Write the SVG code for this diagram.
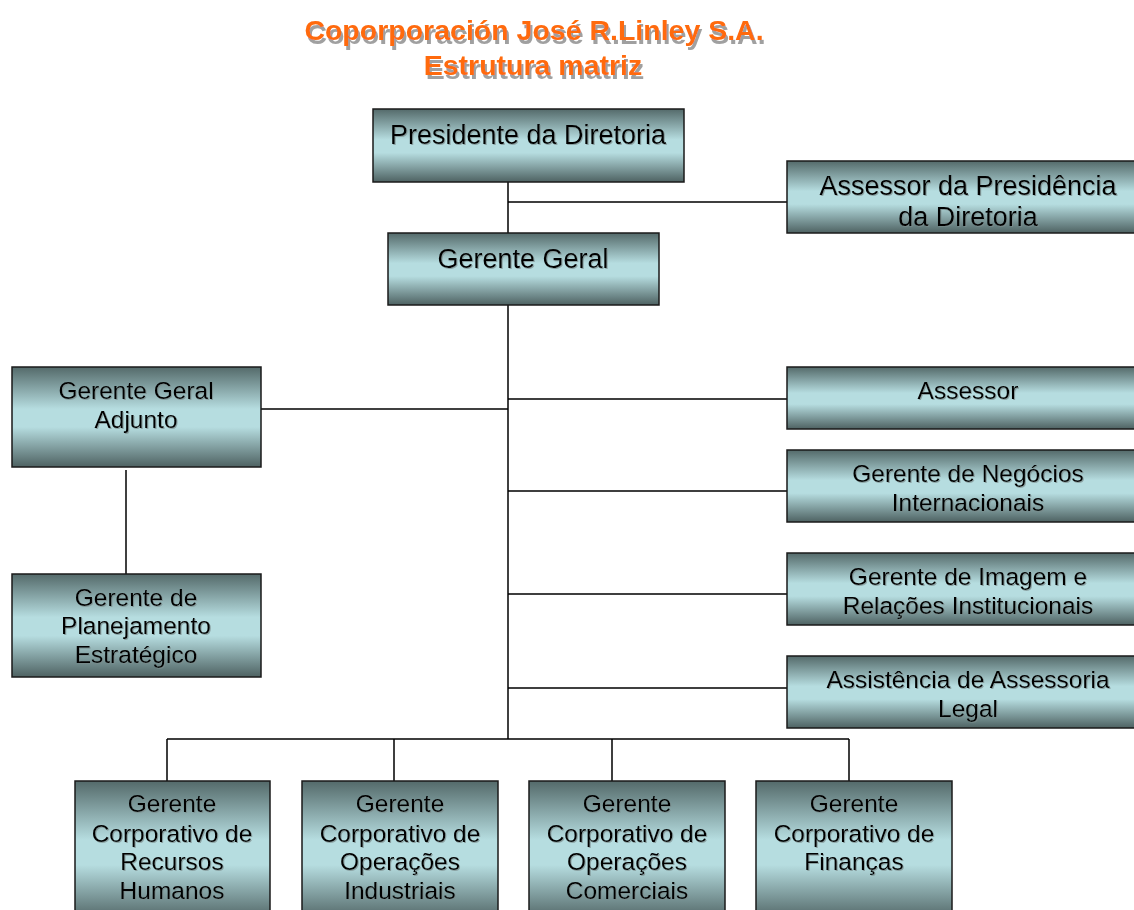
<svg xmlns="http://www.w3.org/2000/svg" width="1134" height="910" viewBox="0 0 1134 910">
  <defs>
    <linearGradient id="boxFill" x1="0" y1="0" x2="0" y2="1">
      <stop offset="0" stop-color="#546a6a"/>
      <stop offset="0.42" stop-color="#b6dde0"/>
      <stop offset="0.6" stop-color="#b6dde0"/>
      <stop offset="1" stop-color="#4e6262"/>
    </linearGradient>
    <filter id="textShadow" x="-5%" y="-20%" width="110%" height="140%">
      <feDropShadow dx="1" dy="1" stdDeviation="0.4" flood-color="#7a8a8a" flood-opacity="0.7"/>
    </filter>
    <filter id="titleShadow" x="-5%" y="-20%" width="110%" height="160%">
      <feDropShadow dx="2" dy="4" stdDeviation="0.7" flood-color="#a0a0a0" flood-opacity="1"/>
    </filter>
  </defs>
  <style>
    .box { fill: url(#boxFill); stroke: #1a1a1a; stroke-width: 1.5; }
    .lbl { font-family: "Liberation Sans", Arial, sans-serif; fill: #000; text-anchor: middle; filter: url(#textShadow); }
    .big { font-size: 27px; }
    .mid { font-size: 24.5px; }
    .title { font-family: "Liberation Sans", Arial, sans-serif; font-weight: bold; font-size: 28.5px; fill: #ff6a0d; text-anchor: middle; filter: url(#titleShadow); }
    .wire { stroke: #000; stroke-width: 1.5; fill: none; }
  </style>
  <rect width="1134" height="910" fill="#fff"/>

  <!-- title -->
  <text class="title" x="534" y="40">Coporporación José R.Linley S.A.</text>
  <text class="title" x="533" y="75">Estrutura matriz</text>

  <!-- connectors -->
  <g id="connectors">
    <path class="wire" d="M508 182 V233 M508 202 H787"/>
    <path class="wire" d="M508 305 V739"/>
    <path class="wire" d="M261 409 H508"/>
    <path class="wire" d="M508 399 H787 M508 491 H787 M508 594 H787 M508 688 H787"/>
    <path class="wire" d="M126 470 V574"/>
    <path class="wire" d="M167 739 H849 M167 739 V781 M394 739 V781 M612 739 V781 M849 739 V781"/>
  </g>

  <g id="presidente">
    <rect class="box" x="373" y="109" width="311" height="73"/>
    <text class="lbl big" x="528" y="144">Presidente da Diretoria</text>
  </g>

  <g id="assessor-presidencia">
    <rect class="box" x="787" y="161" width="350" height="72"/>
    <text class="lbl big" x="968" y="195">Assessor da Presidência</text>
    <text class="lbl big" x="968" y="226">da Diretoria</text>
  </g>

  <g id="gerente-geral">
    <rect class="box" x="388" y="233" width="271" height="72"/>
    <text class="lbl big" x="523" y="268">Gerente Geral</text>
  </g>

  <g id="gerente-geral-adjunto">
    <rect class="box" x="12" y="367" width="249" height="100"/>
    <text class="lbl mid" x="136" y="399">Gerente Geral</text>
    <text class="lbl mid" x="136" y="428">Adjunto</text>
  </g>

  <g id="planejamento">
    <rect class="box" x="12" y="574" width="249" height="103"/>
    <text class="lbl mid" x="136" y="606">Gerente de</text>
    <text class="lbl mid" x="136" y="634">Planejamento</text>
    <text class="lbl mid" x="136" y="663">Estratégico</text>
  </g>

  <g id="assessor">
    <rect class="box" x="787" y="367" width="350" height="62"/>
    <text class="lbl mid" x="968" y="399">Assessor</text>
  </g>

  <g id="negocios-internacionais">
    <rect class="box" x="787" y="450" width="350" height="72"/>
    <text class="lbl mid" x="968" y="482">Gerente de Negócios</text>
    <text class="lbl mid" x="968" y="511">Internacionais</text>
  </g>

  <g id="imagem-relacoes">
    <rect class="box" x="787" y="553" width="350" height="72"/>
    <text class="lbl mid" x="968" y="585">Gerente de Imagem e</text>
    <text class="lbl mid" x="968" y="614">Relações Institucionais</text>
  </g>

  <g id="assessoria-legal">
    <rect class="box" x="787" y="656" width="350" height="72"/>
    <text class="lbl mid" x="968" y="688">Assistência de Assessoria</text>
    <text class="lbl mid" x="968" y="717">Legal</text>
  </g>

  <g id="recursos-humanos">
    <rect class="box" x="75" y="781" width="195" height="140"/>
    <text class="lbl mid" x="172" y="812">Gerente</text>
    <text class="lbl mid" x="172" y="842">Corporativo de</text>
    <text class="lbl mid" x="172" y="870">Recursos</text>
    <text class="lbl mid" x="172" y="899">Humanos</text>
  </g>

  <g id="operacoes-industriais">
    <rect class="box" x="302" y="781" width="196" height="140"/>
    <text class="lbl mid" x="400" y="812">Gerente</text>
    <text class="lbl mid" x="400" y="842">Corporativo de</text>
    <text class="lbl mid" x="400" y="870">Operações</text>
    <text class="lbl mid" x="400" y="899">Industriais</text>
  </g>

  <g id="operacoes-comerciais">
    <rect class="box" x="529" y="781" width="196" height="140"/>
    <text class="lbl mid" x="627" y="812">Gerente</text>
    <text class="lbl mid" x="627" y="842">Corporativo de</text>
    <text class="lbl mid" x="627" y="870">Operações</text>
    <text class="lbl mid" x="627" y="899">Comerciais</text>
  </g>

  <g id="financas">
    <rect class="box" x="756" y="781" width="196" height="140"/>
    <text class="lbl mid" x="854" y="812">Gerente</text>
    <text class="lbl mid" x="854" y="842">Corporativo de</text>
    <text class="lbl mid" x="854" y="870">Finanças</text>
  </g>
</svg>
